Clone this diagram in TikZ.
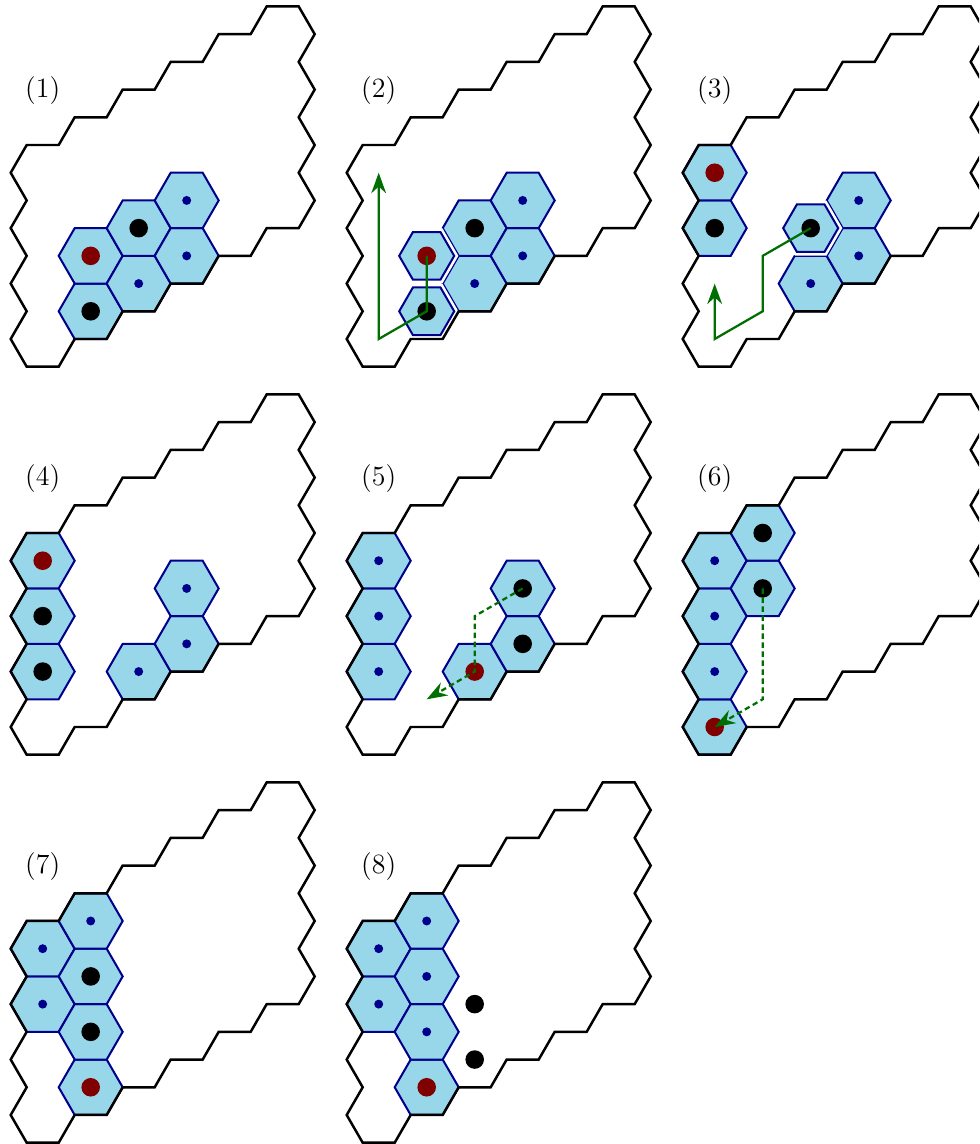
\documentclass[tikz,border=0pt]{standalone}
\usepackage{tikz}
\usetikzlibrary{arrows.meta,shapes.geometric}
\definecolor{CellBlue}{HTML}{98D6EA}
\definecolor{CellEdge}{HTML}{00008B}
\definecolor{DeepRed}{HTML}{800000}
\definecolor{WalkGreen}{HTML}{006E00}

\begin{document}
\begin{tikzpicture}[
    x=0.5cm, y=0.5cm,
    tile/.style={regular polygon, regular polygon sides=6, minimum size=1cm, inner sep=0pt, draw=CellEdge, line width=0.9pt, fill=CellBlue},
    minitile/.style={tile, minimum size=0.86cm, preaction={draw=white, line width=3.2pt}},
    blackdot/.style={circle, fill=black, minimum size=0.29cm, inner sep=0pt},
    reddot/.style={circle, fill=DeepRed, minimum size=0.29cm, inner sep=0pt},
    bluedot/.style={circle, fill=CellEdge, minimum size=0.14cm, inner sep=0pt},
    rim/.style={draw=black, line width=1.1pt, line join=miter},
    tag/.style={font=\fontsize{12.4}{15}\selectfont},
    walk/.style={draw=WalkGreen, line width=1pt, -{Stealth[length=3.2mm, width=2.3mm]}},
    dashwalk/.style={walk, dash pattern=on 2.4pt off 1.6pt}
]
\useasboundingbox (-1.334,-25.156) rectangle (29.26,10.594);
\clip (-1.334,-25.156) rectangle (29.26,10.594);

% 每个小图的格点 (g<编号>-i-j) 和编号
\foreach \p/\c/\r in {1/0/0,2/1/0,3/2/0,4/0/1,5/1/1,6/2/1,7/0/2,8/1/2}{
  \begin{scope}[shift={({10.5*\c},{-7*sqrt(3)*\r})}]
    \foreach \i in {0,...,5}
      \foreach \j in {0,...,3}
        \coordinate (g\p-\i-\j) at ({1.5*\i},{sqrt(3)*(\j+0.5*\i)});
    \node[tag] (tag\p) at (0,7.75) {(\p)};
  \end{scope}
}

% (1)
\foreach \i/\j/\d in {1/0/blackdot,1/1/reddot,2/0/bluedot,2/1/blackdot,3/0/bluedot,3/1/bluedot}
  \node[tile] (t1-\i-\j) at (g1-\i-\j) {} node[\d] (d1-\i-\j) at (g1-\i-\j) {};

% (2) 左边两格缩小
\foreach \i/\j/\d in {2/0/bluedot,2/1/blackdot,3/0/bluedot,3/1/bluedot}
  \node[tile] (t2-\i-\j) at (g2-\i-\j) {} node[\d] (d2-\i-\j) at (g2-\i-\j) {};
\foreach \i/\j/\d in {1/0/blackdot,1/1/reddot}
  \node[minitile] (t2-\i-\j) at (g2-\i-\j) {} node[\d] (d2-\i-\j) at (g2-\i-\j) {};

% (3)
\foreach \i/\j/\d in {0/2/blackdot,0/3/reddot,2/0/bluedot,3/0/bluedot,3/1/bluedot}
  \node[tile] (t3-\i-\j) at (g3-\i-\j) {} node[\d] (d3-\i-\j) at (g3-\i-\j) {};
\node[minitile] (t3-2-1) at (g3-2-1) {} node[blackdot] (d3-2-1) at (g3-2-1) {};

% (4)
\foreach \i/\j/\d in {0/1/blackdot,0/2/blackdot,0/3/reddot,2/0/bluedot,3/0/bluedot,3/1/bluedot}
  \node[tile] (t4-\i-\j) at (g4-\i-\j) {} node[\d] (d4-\i-\j) at (g4-\i-\j) {};

% (5)
\foreach \i/\j/\d in {0/1/bluedot,0/2/bluedot,0/3/bluedot,2/0/reddot,3/0/blackdot,3/1/blackdot}
  \node[tile] (t5-\i-\j) at (g5-\i-\j) {} node[\d] (d5-\i-\j) at (g5-\i-\j) {};

% (6)
\foreach \i/\j/\d in {0/0/reddot,0/1/bluedot,0/2/bluedot,0/3/bluedot,1/2/blackdot,1/3/blackdot}
  \node[tile] (t6-\i-\j) at (g6-\i-\j) {} node[\d] (d6-\i-\j) at (g6-\i-\j) {};

% (7)
\foreach \i/\j/\d in {0/2/bluedot,0/3/bluedot,1/0/reddot,1/1/blackdot,1/2/blackdot,1/3/bluedot}
  \node[tile] (t7-\i-\j) at (g7-\i-\j) {} node[\d] (d7-\i-\j) at (g7-\i-\j) {};

% (8) 两个黑点不在格子上
\foreach \i/\j/\d in {0/2/bluedot,0/3/bluedot,1/0/reddot,1/1/bluedot,1/2/bluedot,1/3/bluedot}
  \node[tile] (t8-\i-\j) at (g8-\i-\j) {} node[\d] (d8-\i-\j) at (g8-\i-\j) {};
\node[blackdot] (d8-2-0) at (g8-2-0) {};
\node[blackdot] (d8-2-1) at (g8-2-1) {};

% 外轮廓：6x4 格子的边界，画在格子上面
\foreach \c/\r in {0/0,1/0,2/0,0/1,1/1,2/1,0/2,1/2}
  \draw[rim, shift={({10.5*\c},{-7*sqrt(3)*\r})}] (-0.5,{3.5*sqrt(3)})
    \foreach \j in {3,...,0} { -- (-1,{\j*sqrt(3)}) -- (-0.5,{(\j-0.5)*sqrt(3)}) }
    \foreach \i in {0,...,5} { -- ({1.5*\i+0.5},{(\i-1)*sqrt(3)/2}) -- ({1.5*\i+1},{\i*sqrt(3)/2}) }
    \foreach \j in {1,2,3} { -- (8,{(\j+2)*sqrt(3)}) -- (8.5,{(\j+2.5)*sqrt(3)}) }
    -- (8,{6*sqrt(3)})
    \foreach \i in {5,...,1} { -- ({1.5*\i-0.5},{(3.5+0.5*\i)*sqrt(3)}) -- ({1.5*\i-1},{(3+0.5*\i)*sqrt(3)}) }
    -- cycle;

% 移动路径
\draw[walk] (g2-1-1) -- (g2-1-0) -- (g2-0-0) -- (g2-0-3);
\draw[walk] (g3-2-1) -- (g3-1-1) -- (g3-1-0) -- (g3-0-0) -- (g3-0-1);
\draw[dashwalk] (g5-3-1) -- (g5-2-1) -- (g5-2-0) -- (g5-1-0);
\draw[dashwalk] (g6-1-2) -- (g6-1-0) -- (g6-0-0);
\end{tikzpicture}
\end{document}
